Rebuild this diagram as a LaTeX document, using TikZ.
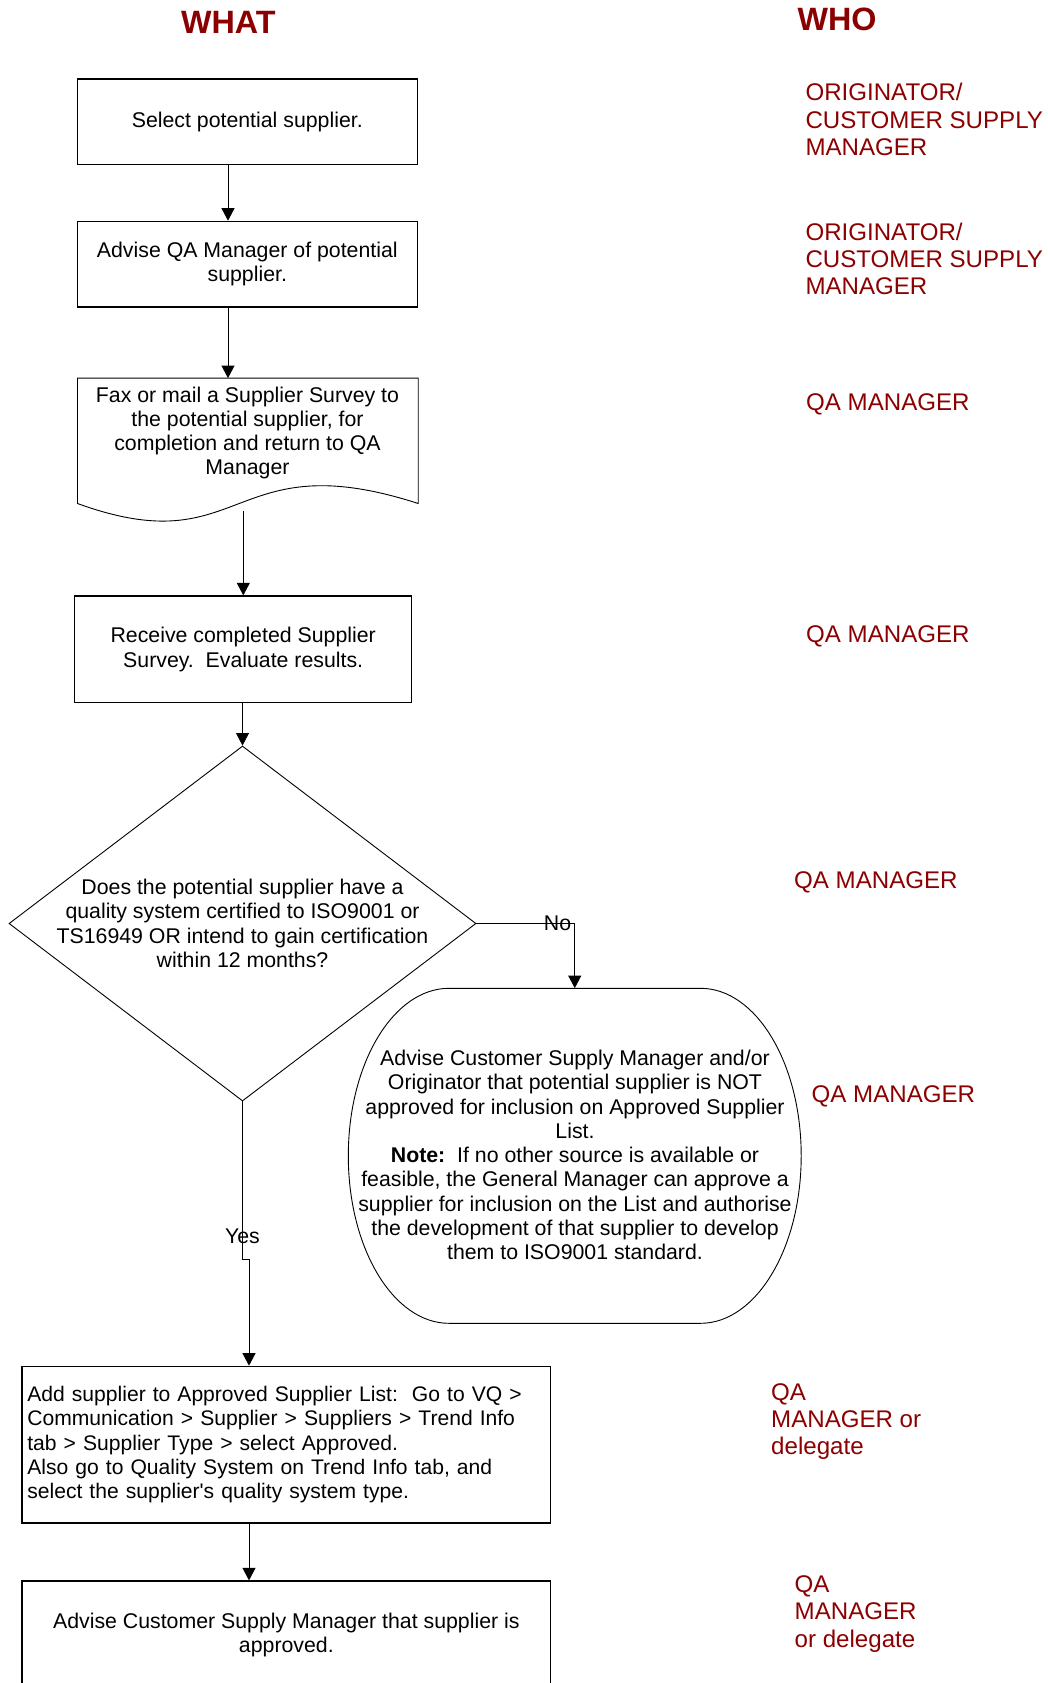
\documentclass[tikz,border=0pt]{standalone}
\usepackage{fontspec}
\setmainfont{Liberation Sans}
\usetikzlibrary{arrows.meta,shapes.geometric}
\definecolor{whored}{HTML}{8B0000}
\newcommand{\flowfont}{\fontsize{21.3}{24.3}\selectfont\frenchspacing}
\newcommand{\listfont}{\fontsize{21.1}{24.2}\selectfont\frenchspacing}
\newcommand{\whofont}{\fontsize{24.1}{27.4}\selectfont}
\newcommand{\headfont}{\fontsize{32.3}{36}\selectfont\bfseries}
\newcommand{\whostack}[1]{\begin{tabular}[t]{@{}l@{}}#1\end{tabular}}

\begin{document}
\begin{tikzpicture}[x=1pt,y=1pt,
  every node/.style={inner sep=0pt, font=\flowfont},
  stepbox/.style={draw=black, line width=1.3pt, align=center},
  flowline/.style={draw=black, line width=0.9pt},
  arr/.style={flowline, -{Triangle[length=12.5pt,width=13pt]}},
  head/.style={font=\headfont, text=whored, anchor=base},
  who/.style={font=\whofont, text=whored, anchor=base west},
  lbl/.style={font=\flowfont}]

\useasboundingbox (0,0) rectangle (1047,-1683);
\clip (0,0) rectangle (1047,-1683);

% column headings
\node[head] (what) at (228.3,-33.3) {WHAT};
\node[head] (who)  at (837,-31) {WHO};

% connector columns
\coordinate (colA) at (228,0);
\coordinate (yesx) at (249,0);

% process steps
\node[stepbox, minimum width=340pt, minimum height=85.7pt] (b1) at (247.3,-121.85)
  {Select potential supplier.};
\node[stepbox, minimum width=340pt, minimum height=85.7pt] (b2) at (247.3,-264.2)
  {Advise QA Manager of potential\\supplier.};

% document shape: survey sent out
\node[minimum width=340.3pt, minimum height=125pt] (doc) at (247.85,-440.8) {};
\draw[flowline] (doc.north west) -- (doc.north east) -- (doc.south east)
  .. controls (228.2,-442) and (245.6,-564.6) .. (doc.south west) -- cycle;
\node[align=center] (doctext) at (247.5,-433)
  {Fax or mail a Supplier Survey to\\the potential supplier, for\\completion and return to QA\\Manager};
\coordinate (docout) at (243.3,-511);

\node[stepbox, minimum width=337pt, minimum height=106.7pt] (b4) at (243.2,-649.35)
  {Receive completed Supplier\\Survey.~ Evaluate results.};

% decision
\node[draw=black, line width=0.9pt, diamond, minimum width=467pt, minimum height=355pt] (dec)
  at (242.5,-923.5) {};
\node[align=center] (dectext) at (242.5,-923.5)
  {Does the potential supplier have a\\quality system certified to ISO9001 or\\TS16949 OR intend to gain certification\\within 12 months?};

% rejection outcome (flat top and bottom, elliptic ends)
\node[minimum width=452.9pt, minimum height=335pt] (alt) at (574.75,-1155.8) {};
\draw[flowline] (449,-988.3) -- (700.5,-988.3)
  arc[start angle=90, end angle=-90, x radius=100.7, y radius=167.5]
  -- (449,-1323.3)
  arc[start angle=270, end angle=90, x radius=100.7, y radius=167.5] -- cycle;
\node[align=center] (alttext) at (575,-1155)
  {Advise Customer Supply Manager and/or\\Originator that potential supplier is NOT\\approved for inclusion on Approved Supplier\\List.\\\textbf{Note:}~ If no other source is available or\\feasible, the General Manager can approve a\\supplier for inclusion on the List and authorise\\the development of that supplier to develop\\them to ISO9001 standard.};

\node[stepbox, font=\listfont, minimum height=156.7pt, text width=518pt, inner xsep=5.3pt, align=left] (b6)
  at (286.35,-1444.65)
  {Add supplier to Approved Supplier List:~ Go to VQ >\\Communication > Supplier > Suppliers > Trend Info\\tab > Supplier Type > select Approved.\\Also go to Quality System on Trend Info tab, and\\select the supplier\textquotesingle s quality system type.};

\node[stepbox, minimum width=528.7pt, minimum height=108pt] (b7) at (286.35,-1635)
  {Advise Customer Supply Manager that supplier is\\approved.};

% connectors
\draw[arr] (b1.south -| colA) -- (b2.north -| colA);
\draw[arr] (b2.south -| colA) -- (doc.north -| colA);
\draw[arr] (docout) -- (b4.north -| docout);
\draw[arr] (b4.south -| dec.north) -- (dec.north);
\draw[arr] (dec.east) -| (alt.north);
\draw[arr] (dec.south) -- ++(0,-158.3) -| (b6.north -| yesx);
\draw[arr] (b6.south -| yesx) -- (b7.north -| yesx);

% branch labels
\node[lbl] (nolbl)  at (557.6,-923.7) {No};
\node[lbl] (yeslbl) at (242.5,-1236.7) {Yes};

% responsibilities
\node[who] (w1) at (805.3,-100.7) {\whostack{ORIGINATOR/\\CUSTOMER SUPPLY\\MANAGER}};
\node[who] (w2) at (805.3,-240) {\whostack{ORIGINATOR/\\CUSTOMER SUPPLY\\MANAGER}};
\node[who] (w3) at (806,-410) {QA MANAGER};
\node[who] (w4) at (806,-642) {QA MANAGER};
\node[who] (w5) at (794,-888) {QA MANAGER};
\node[who] (w6) at (811.5,-1102) {QA MANAGER};
\node[who] (w7) at (771,-1400) {\whostack{QA\\MANAGER or\\delegate}};
\node[who] (w8) at (794.5,-1592.3) {\whostack{QA\\MANAGER\\or delegate}};

\end{tikzpicture}
\end{document}
